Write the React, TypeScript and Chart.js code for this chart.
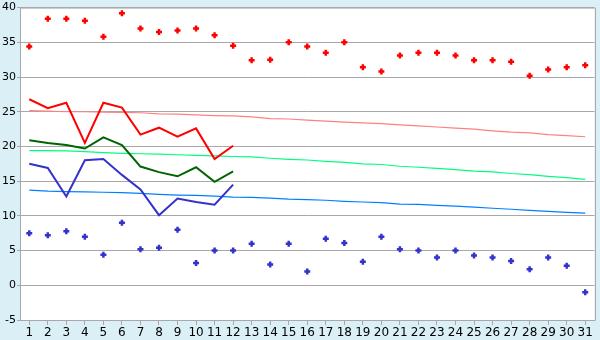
import React, { useEffect, useRef } from "react";
import { Chart, registerables } from "chart.js";

Chart.register(...registerables);

const days = ["1","2","3","4","5","6","7","8","9","10","11","12","13","14","15","16","17","18","19","20","21","22","23","24","25","26","27","28","29","30","31"];

const recordMax = [34.4, 38.4, 38.4, 38.1, 35.8, 39.2, 37.0, 36.5, 36.7, 37.0, 36.0, 34.5, 32.4, 32.5, 35.0, 34.4, 33.5, 35.0, 31.4, 30.8, 33.1, 33.5, 33.5, 33.1, 32.4, 32.4, 32.2, 30.2, 31.1, 31.4, 31.7];
const recordMin = [7.5, 7.2, 7.8, 7.0, 4.4, 9.0, 5.2, 5.4, 8.0, 3.2, 5.0, 5.0, 6.0, 3.0, 6.0, 2.0, 6.7, 6.1, 3.4, 7.0, 5.2, 5.0, 4.0, 5.0, 4.3, 4.0, 3.5, 2.3, 4.0, 2.8, -1.0];

const maxThisYear = [26.8, 25.5, 26.3, 20.5, 26.3, 25.6, 21.7, 22.7, 21.4, 22.6, 18.2, 20.1];
const meanThisYear = [20.9, 20.5, 20.2, 19.7, 21.3, 20.2, 17.1, 16.3, 15.7, 17.0, 14.9, 16.4];
const minThisYear = [17.5, 16.9, 12.8, 18.0, 18.2, 15.9, 13.8, 10.1, 12.5, 12.0, 11.6, 14.5];

const normalMax = [25.15, 25.1, 25.0, 25.0, 24.95, 24.9, 24.85, 24.7, 24.65, 24.55, 24.45, 24.4, 24.25, 24.0, 23.95, 23.8, 23.65, 23.5, 23.4, 23.3, 23.1, 22.95, 22.8, 22.65, 22.5, 22.25, 22.05, 21.95, 21.7, 21.55, 21.4];
const normalMean = [19.4, 19.4, 19.35, 19.25, 19.1, 19.0, 18.95, 18.9, 18.8, 18.7, 18.65, 18.55, 18.5, 18.3, 18.15, 18.05, 17.85, 17.7, 17.5, 17.4, 17.15, 17.0, 16.85, 16.65, 16.45, 16.35, 16.1, 15.95, 15.7, 15.5, 15.25];
const normalMin = [13.7, 13.55, 13.5, 13.45, 13.4, 13.35, 13.25, 13.1, 13.0, 12.95, 12.85, 12.7, 12.65, 12.55, 12.4, 12.35, 12.25, 12.1, 12.0, 11.9, 11.7, 11.65, 11.5, 11.4, 11.25, 11.1, 10.95, 10.8, 10.65, 10.5, 10.4];

const yMin = -5;
const yMax = 40;
const yStep = 5;

const bgPlugin = {
  id: "bgPlugin",
  beforeDraw(chart: any) {
    const { ctx, chartArea } = chart;
    ctx.save();
    ctx.fillStyle = "#daeff6";
    ctx.fillRect(0, 0, chart.width, chart.height);
    ctx.fillStyle = "#ffffff";
    ctx.fillRect(chartArea.left, chartArea.top, chartArea.right - chartArea.left, chartArea.bottom - chartArea.top);
    ctx.restore();
  },
  afterDraw(chart: any) {
    const { ctx, chartArea } = chart;
    ctx.save();
    ctx.strokeStyle = "#a8a8a8";
    ctx.lineWidth = 1;
    ctx.beginPath();
    ctx.moveTo(chartArea.left + 0.5, chartArea.top + 0.5);
    ctx.lineTo(Math.round(chartArea.right) + 0.5, chartArea.top + 0.5);
    ctx.lineTo(Math.round(chartArea.right) + 0.5, Math.round(chartArea.bottom) + 0.5);
    ctx.stroke();
    ctx.restore();
  },
};

export default function App() {
  const ref = useRef<HTMLCanvasElement | null>(null);
  useEffect(() => {
    document.body.style.margin = "0";
    const canvas = ref.current;
    if (!canvas) return;
    const pts = (data: number[], color: string, order: number) => ({
      data,
      showLine: false,
      borderColor: color,
      backgroundColor: color,
      pointStyle: "cross",
      pointRadius: 3,
      pointBorderWidth: 2.5,
      pointHoverRadius: 3,
      order,
    });
    const line = (data: number[], color: string, width: number, order: number) => ({
      data,
      borderColor: color,
      backgroundColor: color,
      borderWidth: width,
      pointRadius: 0,
      tension: 0,
      fill: false,
      order,
    });
    const chart = new Chart(canvas, {
      type: "line",
      data: {
        labels: days,
        datasets: [
          line(normalMax, "#ff8080", 1.2, 9),
          line(normalMean, "#00ff80", 1.2, 8),
          line(normalMin, "#0080ff", 1.2, 7),
          line(maxThisYear, "#ff0000", 2, 4),
          line(meanThisYear, "#006400", 2, 5),
          line(minThisYear, "#3333cc", 2, 6),
          pts(recordMax, "#ff0000", 1),
          pts(recordMin, "#3333cc", 2),
        ] as any,
      },
      options: {
        responsive: false,
        animation: false,
        layout: { padding: { top: 5, right: 5, left: 0, bottom: 0 } },
        plugins: {
          legend: { display: false },
          tooltip: { enabled: false },
        },
        scales: {
          x: {
            offset: true,
            grid: {
              offset: false,
              drawOnChartArea: false,
              drawTicks: true,
              tickLength: 5,
              color: "#a8a8a8",
            },
            border: { color: "#a8a8a8" },
            ticks: {
              color: "#000000",
              font: { family: "DejaVu Sans", size: 12 },
              padding: 1,
              maxRotation: 0,
              autoSkip: false,
            },
            afterFit(scale: any) {
              scale.height = 20;
            },
          },
          y: {
            min: yMin,
            max: yMax,
            ticks: {
              stepSize: yStep,
              color: "#000000",
              font: { family: "DejaVu Sans", size: 11 },
              padding: 1,
            },
            grid: {
              color: "#a8a8a8",
              tickLength: 3,
            },
            border: { color: "#a8a8a8" },
            afterFit(scale: any) {
              scale.width = 20;
            },
          },
        },
      },
      plugins: [bgPlugin],
    });
    return () => chart.destroy();
  }, []);
  return (
    <div style={{ position: "fixed", left: 0, top: 0, width: 600, height: 340 }}>
      <canvas ref={ref} width={600} height={340} style={{ display: "block" }} />
    </div>
  );
}
